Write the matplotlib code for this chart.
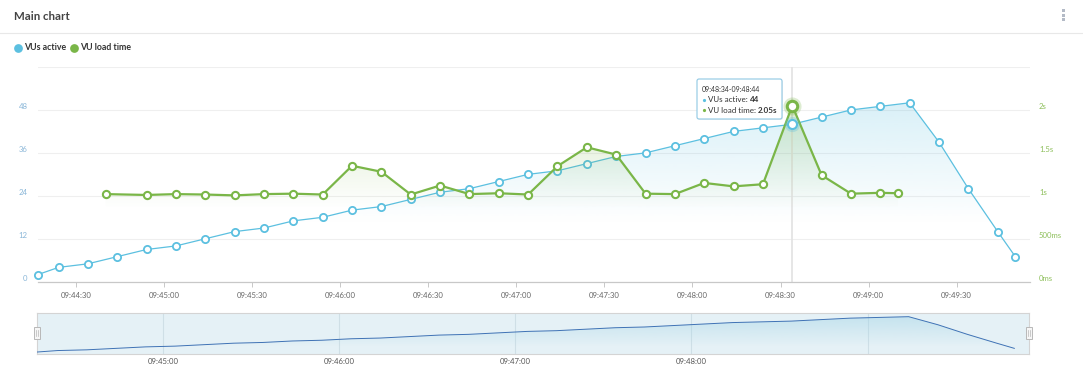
import matplotlib
matplotlib.use('Agg')
import matplotlib.pyplot as plt
import matplotlib.transforms as mtransforms
from matplotlib.patches import FancyBboxPatch, Rectangle
from matplotlib.lines import Line2D
from matplotlib.ticker import FuncFormatter
import numpy as np

plt.rcParams['font.family'] = ['Lato', 'DejaVu Sans']

# --- data ---
blue_times = ['09:44:17', '09:44:24', '09:44:34', '09:44:44', '09:44:54', '09:45:04',
              '09:45:14', '09:45:24', '09:45:34', '09:45:44', '09:45:54', '09:46:04',
              '09:46:14', '09:46:24', '09:46:34', '09:46:44', '09:46:54', '09:47:04',
              '09:47:14', '09:47:24', '09:47:34', '09:47:44', '09:47:54', '09:48:04',
              '09:48:14', '09:48:24', '09:48:34', '09:48:44', '09:48:54', '09:49:04',
              '09:49:14', '09:49:24', '09:49:34', '09:49:44', '09:49:50']
vus_active = [2, 4, 5, 7, 9, 10, 12, 14, 15, 17, 18, 20, 21, 23, 25, 26, 28, 30,
              31, 33, 35, 36, 38, 40, 42, 43, 44, 46, 48, 49, 50, 39, 26, 14, 7]

green_times = ['09:44:40', '09:44:54', '09:45:04', '09:45:14', '09:45:24', '09:45:34',
               '09:45:44', '09:45:54', '09:46:04', '09:46:14', '09:46:24', '09:46:34',
               '09:46:44', '09:46:54', '09:47:04', '09:47:14', '09:47:24', '09:47:34',
               '09:47:44', '09:47:54', '09:48:04', '09:48:14', '09:48:24', '09:48:34',
               '09:48:44', '09:48:54', '09:49:04', '09:49:10']
vu_load_time = [1.02, 1.01, 1.02, 1.015, 1.005, 1.02, 1.025, 1.015, 1.35, 1.28, 1.015,
                1.12, 1.02, 1.03, 1.015, 1.345, 1.565, 1.48, 1.025, 1.02, 1.15, 1.11,
                1.135, 2.05, 1.24, 1.025, 1.035, 1.03]

main_ticks = ['09:44:30', '09:45:00', '09:45:30', '09:46:00', '09:46:30', '09:47:00',
              '09:47:30', '09:48:00', '09:48:30', '09:49:00', '09:49:30']
nav_ticks = ['09:45:00', '09:46:00', '09:47:00', '09:48:00']
nav_grid = ['09:45:00', '09:46:00', '09:47:00', '09:48:00', '09:49:00']
left_ticks = [0, 12, 24, 36, 48, 60]
right_ticks = [0, 0.5, 1, 1.5, 2, 2.5]
right_labels = ['0ms', '500ms', '1s', '1.5s', '2s', '']
hover_time = '09:48:34'
hover_label = '09:48:34-09:48:44'


def secs(s):
    h, m, sec = s.split(':')
    return int(h) * 3600 + int(m) * 60 + float(sec)


def hms(v, pos=None):
    v = int(round(v))
    return '%02d:%02d:%02d' % (v // 3600, (v % 3600) // 60, v % 60)


bx = np.array([secs(t) for t in blue_times])
gx = np.array([secs(t) for t in green_times])
hx = secs(hover_time)
x0, x1 = secs('09:44:17'), secs('09:49:55')

BLUE = '#5cc0e0'
GREEN = '#7ab648'

W, H = 1083, 377
fig = plt.figure(figsize=(W / 100, H / 100), dpi=100)
fig.patch.set_facecolor('white')


def fx(px):
    return px / W


def fy(py):
    return 1 - py / H


def gradient_fill(axis, x, y, color, v0, v1, amax, zorder, ylim):
    poly = axis.fill_between(x, y, 0, facecolor='none', edgecolor='none')
    rgb = matplotlib.colors.to_rgb(color)
    vals = np.linspace(ylim[0], ylim[1], 300)
    a = np.clip((vals - v0) / (v1 - v0), 0, 1) * amax
    img = np.zeros((300, 1, 4))
    img[:, 0, :3] = rgb
    img[:, 0, 3] = a
    im = axis.imshow(img, extent=[x0, x1, ylim[0], ylim[1]], origin='lower',
                     aspect='auto', zorder=zorder, interpolation='bilinear')
    im.set_clip_path(poly.get_paths()[0], transform=axis.transData)


# --- main chart ---
ax = fig.add_axes([fx(38), fy(281.7), fx(1030) - fx(38), (281.7 - 67) / H])
ax2 = ax.twinx()

gradient_fill(ax, bx, vus_active, BLUE, 16, 50, 0.23, 1, (0, 60))
ax.axvline(hx, color='#e2e2e2', lw=1.2, zorder=1.5)
ax.plot(bx, vus_active, color=BLUE, lw=0.9, marker='o', ms=5.2, mfc='white',
        mec=BLUE, mew=1.3, zorder=3, clip_on=False)

gradient_fill(ax2, gx, vu_load_time, GREEN, 0.85, 2.1, 0.28, 1, (0, 2.5))
ax2.plot(gx, vu_load_time, color=GREEN, lw=1.6, marker='o', ms=5.2, mfc='white',
         mec=GREEN, mew=1.5, zorder=3, clip_on=False)

# hover markers
hi_b = blue_times.index(hover_time)
hi_g = green_times.index(hover_time)
ax2.plot([hx], [vus_active[hi_b]], transform=ax.transData, marker='o', ms=11,
         mfc=BLUE, mec='none', alpha=0.3, zorder=5)
ax2.plot([hx], [vus_active[hi_b]], transform=ax.transData, marker='o', ms=6.5,
         mfc='white', mec=BLUE, mew=1.5, zorder=6)
ax2.plot([hx], [vu_load_time[hi_g]], marker='o', ms=13, mfc=GREEN, mec='none',
         alpha=0.25, zorder=5)
ax2.plot([hx], [vu_load_time[hi_g]], marker='o', ms=7.5, mfc='white', mec=GREEN,
         mew=2.2, zorder=6)

ax.set_xlim(x0, x1)
ax.set_ylim(0, 60)
ax2.set_ylim(0, 2.5)
ax2.set_xlim(x0, x1)

ax.set_xticks([secs(t) for t in main_ticks])
ax.xaxis.set_major_formatter(FuncFormatter(hms))
ax.set_yticks(left_ticks)
ax.set_yticklabels([str(v) if v < 60 else '' for v in left_ticks])
ax2.set_yticks(right_ticks)
ax2.set_yticklabels(right_labels)

ax.grid(axis='y', color='#efefef', lw=0.8, zorder=0)
ax.set_axisbelow(True)
for a in (ax, ax2):
    for s in ('top', 'left', 'right'):
        a.spines[s].set_visible(False)
    a.spines['bottom'].set_color('#c8c8c8')
    a.spines['bottom'].set_linewidth(0.9)
ax2.spines['bottom'].set_visible(False)

ax.tick_params(axis='x', length=3.5, width=0.7, color='#c8c8c8', labelsize=5.6,
               labelcolor='#666666', pad=4)
ax.tick_params(axis='y', length=0, labelsize=5.6, labelcolor='#89b6d8', pad=7.5)
ax2.tick_params(axis='y', length=0, labelsize=5.6, labelcolor='#8dbf5a', pad=6.5)

up = mtransforms.ScaledTranslation(0, 3.5 / 100, fig.dpi_scale_trans)
for lab in ax.get_yticklabels() + ax2.get_yticklabels():
    lab.set_transform(lab.get_transform() + up)

# --- navigator ---
axn = fig.add_axes([fx(37), fy(353.5), fx(1029) - fx(37), 40.5 / H])
axn.set_facecolor('#e5f1f6')
gradient_fill(axn, bx, vus_active, '#9fd3e6', 10, 50, 0.45, 1, (0, 55))
axn.plot(bx, vus_active, color='#3f72b5', lw=0.7, zorder=3)
for t in nav_grid:
    axn.axvline(secs(t), color='#cfdfe6', lw=0.8, zorder=0.5)
axn.set_xlim(x0, x1)
axn.set_ylim(0, 55)
axn.set_yticks([])
axn.set_xticks([secs(t) for t in nav_ticks])
axn.xaxis.set_major_formatter(FuncFormatter(hms))
axn.tick_params(axis='x', length=0, labelsize=5.6, labelcolor='#555555', pad=3.5)
for s in axn.spines.values():
    s.set_color('#d4d4d4')
    s.set_linewidth(0.8)

for hxp in (37, 1029):
    fig.add_artist(Rectangle((hxp - 3, H - 339), 6, 12, transform=mtransforms.IdentityTransform(),
                             facecolor='#f6f6f6', edgecolor='#b8b8b8', lw=0.7, zorder=10))
    for dx in (-1, 1):
        fig.add_artist(Line2D([hxp + dx, hxp + dx], [H - 336, H - 330],
                              transform=mtransforms.IdentityTransform(),
                              color='#b8b8b8', lw=0.5, zorder=11))

# --- header / legend ---
fig.text(fx(14), fy(16.5), 'Main chart', fontsize=8.3, fontweight='bold',
         color='#444444', va='center', ha='left')
fig.add_artist(Line2D([0, 1], [fy(33), fy(33)], transform=fig.transFigure,
                      color='#e8e8e8', lw=0.8))
for yy in (10.5, 15, 19.5):
    fig.add_artist(Rectangle((1061.5, H - yy - 1.5), 3, 3,
                             transform=mtransforms.IdentityTransform(),
                             facecolor='#b3bac6', edgecolor='none'))

for cx, tx, col, lab in ((17.7, 24, BLUE, 'VUs active'), (74, 80.5, GREEN, 'VU load time')):
    fig.add_artist(Line2D([fx(cx)], [fy(47.7)], transform=fig.transFigure, marker='o',
                          ms=6.3, mfc=col, mec='none'))
    fig.text(fx(tx), fy(47.7), lab, fontsize=6.3, fontweight='bold', color='#333333',
             va='center', ha='left')

# --- tooltip ---
idt = mtransforms.IdentityTransform()
fig.add_artist(FancyBboxPatch((698, H - 120), 85, 40, boxstyle='round,pad=0,rounding_size=2',
                              transform=idt, facecolor='#000000', edgecolor='none',
                              alpha=0.06, zorder=19))
fig.add_artist(FancyBboxPatch((697, H - 119), 85, 40, boxstyle='round,pad=0,rounding_size=2',
                              transform=idt, facecolor='white', edgecolor='#8fc8e4',
                              lw=0.8, zorder=20))
fig.text(fx(701.5), fy(90), hover_label, fontsize=5.0, color='#333333', va='center',
         zorder=21)
renderer = fig.canvas.get_renderer()
rows = ((100, BLUE, 'VUs active: ', '%d' % vus_active[hi_b]),
        (110.3, GREEN, 'VU load time: ', '%.2fs' % vu_load_time[hi_g]))
for yy, col, lab, val in rows:
    fig.add_artist(Line2D([fx(704)], [fy(yy)], transform=fig.transFigure, marker='o',
                          ms=2.3, mfc=col, mec='none', zorder=21))
    t = fig.text(fx(708), fy(yy), lab, fontsize=5.8, color='#333333', va='center', zorder=21)
    bb = t.get_window_extent(renderer)
    fig.text(bb.x1 / W, fy(yy), val, fontsize=5.8, fontweight='bold', color='#333333',
             va='center', zorder=21)

fig.savefig('out.png', dpi=100, facecolor='white')
